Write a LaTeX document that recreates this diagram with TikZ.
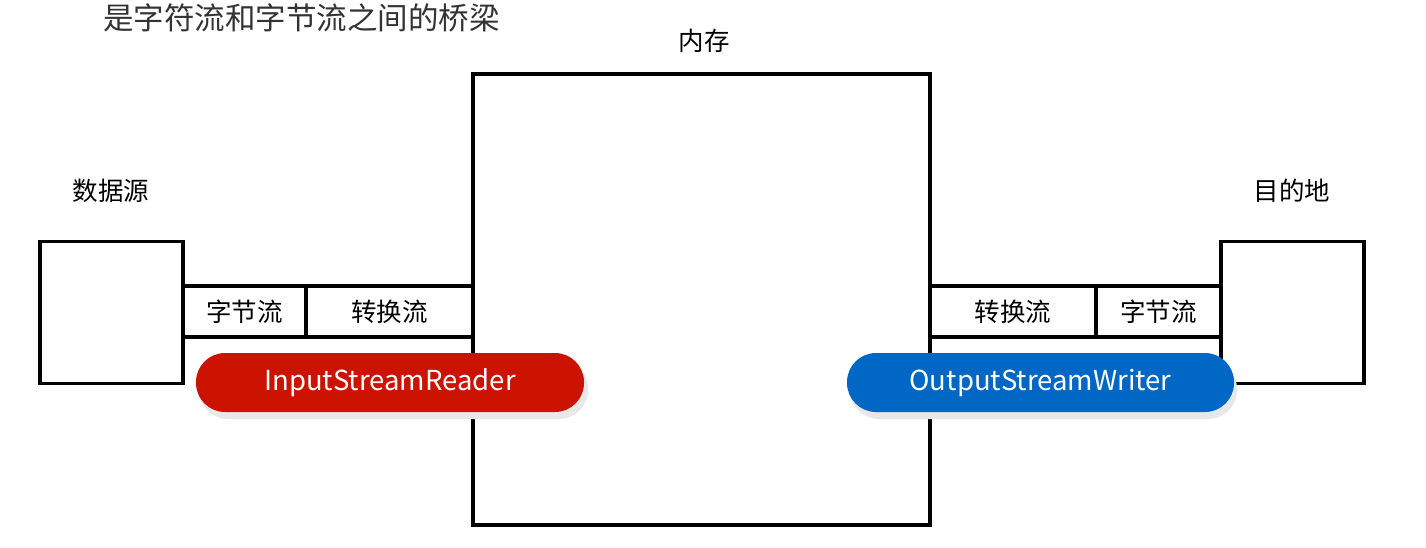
\documentclass[tikz,border=0pt]{standalone}
\usepackage{fontspec}
\setmainfont{Noto Sans CJK SC}
\definecolor{pillred}{HTML}{CC1200}
\definecolor{pillblue}{HTML}{0067C4}
\definecolor{titlegray}{HTML}{333333}
\begin{document}
\begin{tikzpicture}[x=1pt,y=-1pt,
  box/.style={draw=black,line width=3.8pt,fill=white,inner sep=0pt},
  cell/.style={box,minimum height=51pt,font=\fontsize{25.5}{28}\selectfont},
  pill/.style={rounded corners=29pt,minimum height=59pt,inner sep=0pt,text=white,
     font=\fontsize{27.5}{30}\selectfont},
  lbl/.style={font=\fontsize{25.5}{28}\selectfont,inner sep=0pt}]
\useasboundingbox (0,0) rectangle (1426,547);
\fill[white] (0,0) rectangle (1426,547);
% title and labels
\node[font=\fontsize{30.5}{33}\selectfont,text=titlegray,anchor=west,inner sep=0pt] (title) at (103,18) {是字符流和字节流之间的桥梁};
\node[lbl] (memlbl) at (704,41) {内存};
\node[lbl] (srclbl) at (111,191) {数据源};
\node[lbl] (dstlbl) at (1292,191) {目的地};
% boxes
\node[box,minimum width=457pt,minimum height=451pt] (mem) at (701.5,299.5) {};
\node[box,minimum width=143pt,minimum height=142pt] (src) at (111.5,312.5) {};
\node[box,minimum width=143pt,minimum height=142pt] (dst) at (1292.5,312.5) {};
% strips
\node[cell,minimum width=123pt] (lbyte) at (244.5,311.5) {字节流};
\node[cell,minimum width=167pt] (lconv) at (389.5,311.5) {转换流};
\node[cell,minimum width=166pt] (rconv) at (1013,311.5) {转换流};
\node[cell,minimum width=125pt] (rbyte) at (1158.5,311.5) {字节流};
% shadows
\fill[black!9,rounded corners=29pt] (199,360) rectangle (588,419);
\fill[black!9,rounded corners=29pt] (850,360) rectangle (1237,419);
% pills
\node[pill,fill=pillred,minimum width=388pt] (isr) at (390,382.5) {InputStreamReader};
\node[pill,fill=pillblue,minimum width=387pt] (osw) at (1040.5,382.5) {OutputStreamWriter};
\end{tikzpicture}
\end{document}
